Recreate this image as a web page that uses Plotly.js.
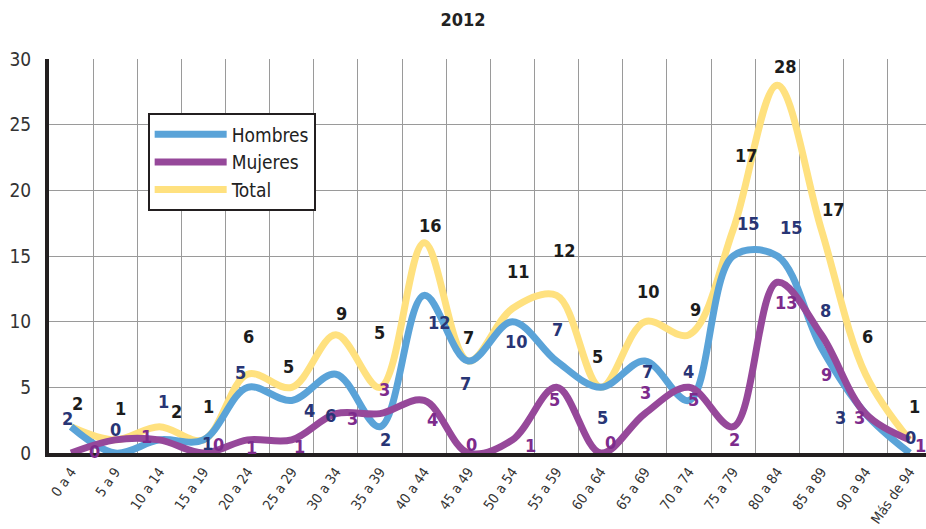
<!DOCTYPE html>
<html>
<head>
<meta charset="utf-8">
<script src="https://cdn.plot.ly/plotly-3.0.1.min.js"></script>
<style>html,body{margin:0;padding:0;background:#fff;}#chart{width:926px;height:529px;}</style>
</head>
<body>
<div id="chart"></div>
<script>
// ---- data ----
const categories = ["0 a 4","5 a 9","10 a 14","15 a 19","20 a 24","25 a 29","30 a 34","35 a 39","40 a 44","45 a 49","50 a 54","55 a 59","60 a 64","65 a 69","70 a 74","75 a 79","80 a 84","85 a 89","90 a 94","Más de 94"];
const hombres = [2,0,1,1,5,4,6,2,12,7,10,7,5,7,4,15,15,8,3,0];
const mujeres = [0,1,1,0,1,1,3,3,4,0,1,5,0,3,5,2,13,9,3,1];
const total   = [2,1,2,1,6,5,9,5,16,7,11,12,5,10,9,17,28,17,6,1];

// ---- label placement (pixel offsets from each point: [dx, dy] with dy down) ----
const totalOff = [[6,-23],[5,-31],[17,-15],[5,-33],[1,-38],[-3,-21],[6,-21],[-1,-55],[6,-17],[0,-24],[6,-37],[8,-45],[-3,-31],[4,-30],[7,-25],[13,-74],[8,-19],[12,-20],[2,-38],[5,-33]];
const hombresOff = [[-4,-8],[0,-24],[4,-38],[4,4],[-7,-15],[18,10],[-5,41],[5,13],[15,27],[-3,22],[4,20],[1,-32],[2,30],[3,10],[0,-29],[15,-33],[14,-29],[4,-37],[-25,4],[1,-16]];
const mujeresOff = [[23,-2],null,[-13,-3],[15,-9],[4,8],[8,7],[17,5],[4,-24],[8,19],[3,-9],[18,6],[-2,12],[10,-11],[1,-21],[5,12],[1,13],[9,20],[5,40],[-6,4],[11,6]];

const FONT = '"DejaVu Sans Condensed", "Liberation Sans Narrow", Roboto, sans-serif';
const C_H = '#5aa3d8', C_M = '#96489a', C_T = '#ffe17f';
const L_H = '#283575', L_M = '#7d2b8c', L_T = '#1c1c1c';

function line(name, y, color, rank) {
  return {
    type: 'scatter', mode: 'lines', name: name, x: categories, y: y,
    line: {color: color, width: 7, shape: 'spline', smoothing: 1},
    legendrank: rank, hoverinfo: 'skip'
  };
}
const traces = [
  line('Total', total, C_T, 3),
  line('Hombres', hombres, C_H, 1),
  line('Mujeres', mujeres, C_M, 2)
];

const annotations = [];
function addLabels(vals, offs, color) {
  vals.forEach((v, i) => {
    const o = offs[i];
    if (!o) return;
    annotations.push({
      xref: 'x', yref: 'y', x: categories[i], y: v, text: String(v),
      showarrow: false, xshift: o[0], yshift: -o[1],
      font: {family: FONT, size: 18, color: color, weight: 'bold'}
    });
  });
}
addLabels(total, totalOff, L_T);
addLabels(hombres, hombresOff, L_H);
addLabels(mujeres, mujeresOff, L_M);

const layout = {
  width: 926, height: 529,
  margin: {l: 49, r: 0, t: 59, b: 76},
  paper_bgcolor: '#ffffff', plot_bgcolor: '#ffffff',
  font: {family: FONT, color: '#333333'},
  title: {text: '<b>2012</b>', font: {family: FONT, size: 18, color: '#222222'},
          xref: 'container', x: 0.5, xanchor: 'center', yref: 'container', y: 0.962, yanchor: 'middle'},
  showlegend: true,
  legend: {
    x: 0.1125, y: 0.862, xanchor: 'left', yanchor: 'top',
    bgcolor: '#ffffff', bordercolor: '#231f20', borderwidth: 2,
    font: {family: FONT, size: 19, color: '#222222'},
    itemwidth: 72, tracegroupgap: 0
  },
  xaxis: {
    type: 'category', range: [-0.5, 19.37], tickson: 'boundaries',
    showgrid: true, gridcolor: '#9a9a9a', gridwidth: 1,
    showline: true, linecolor: '#231f20', linewidth: 4,
    ticks: '', tickangle: -55, ticklabelstandoff: 1,
    tickfont: {family: FONT, size: 14, color: '#333333'},
    zeroline: false, fixedrange: true
  },
  yaxis: {
    range: [0, 30], dtick: 5, tick0: 0,
    showgrid: true, gridcolor: '#9a9a9a', gridwidth: 1,
    showline: true, linecolor: '#231f20', linewidth: 4,
    ticks: '', ticklabelstandoff: 10,
    tickfont: {family: FONT, size: 19, color: '#333333'},
    zeroline: false, fixedrange: true
  },
  annotations: annotations
};

Plotly.newPlot('chart', traces, layout, {displayModeBar: false, staticPlot: true});
</script>
</body>
</html>
